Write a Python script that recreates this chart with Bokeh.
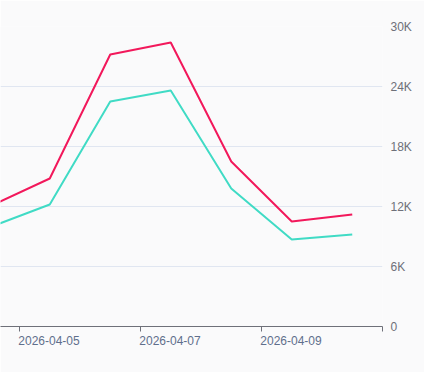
from datetime import datetime, timezone
from bokeh.plotting import figure
from bokeh.models import LinearAxis, FixedTicker, Range1d, CustomJSTickFormatter, Grid
from bokeh.embed import file_html
from bokeh.resources import INLINE

def ms(y, m, d, h=0, mi=0):
    return datetime(y, m, d, h, mi, tzinfo=timezone.utc).timestamp() * 1000

dates = [ms(2026, 4, d, 12) for d in [4, 5, 6, 7, 8, 9, 10]]
series_red = [12000, 14800, 27200, 28400, 16500, 10500, 11200]
series_teal = [9900, 12200, 22500, 23600, 13800, 8700, 9200]
x_ticks = [ms(2026, 4, 5), ms(2026, 4, 7), ms(2026, 4, 9), ms(2026, 4, 11)]
x_labels = ["2026-04-05", "2026-04-07", "2026-04-09"]
y_ticks = [0, 6000, 12000, 18000, 24000, 30000]
y_labels = ["0", "6K", "12K", "18K", "24K", "30K"]

BG = "#fafafb"
PX_PER_DAY = 60.5
DAY = 86400000
x_end = ms(2026, 4, 11)
x_start = x_end - (382 / PX_PER_DAY) * DAY

p = figure(width=424, height=372, output_backend="svg", toolbar_location=None,
           x_axis_type="datetime", x_range=Range1d(x_start, x_end), y_range=Range1d(0, 30000),
           y_axis_location=None, min_border_left=0, min_border_top=26, min_border_bottom=46,
           min_border_right=42, background_fill_color=BG, border_fill_color=BG)
p.outline_line_color = None

p.line(dates, series_red, line_color="#f2185b", line_width=2)
p.line(dates, series_teal, line_color="#40dbc5", line_width=2)

# tick-only axis
xa = p.xaxis[0]
xa.ticker = FixedTicker(ticks=x_ticks)
xa.formatter = CustomJSTickFormatter(code="return '';")
xa.axis_line_color = "#6e7079"
xa.major_tick_line_color = "#6e7079"
xa.major_tick_out = 5
xa.major_tick_in = 0
xa.minor_tick_line_color = None
xa.major_label_text_font_size = "0px"
xa.major_label_standoff = 0

# label axis: labels start at their tick (left aligned)
half_label = (29.5 / PX_PER_DAY) * DAY
label_pos = [round(t + half_label) for t in x_ticks[:len(x_labels)]]
xl = LinearAxis(ticker=FixedTicker(ticks=label_pos),
                major_label_overrides={t: l for t, l in zip(label_pos, x_labels)})
xl.axis_line_color = None
xl.major_tick_line_color = None
xl.minor_tick_line_color = None
xl.major_label_text_color = "#5f6f8c"
xl.major_label_text_font = "Liberation Sans"
xl.major_label_text_font_size = "12px"
xl.major_label_standoff = -2
p.add_layout(xl, "below")

ya = LinearAxis(ticker=FixedTicker(ticks=y_ticks),
                major_label_overrides={t: l for t, l in zip(y_ticks, y_labels)})
ya.axis_line_color = None
ya.major_tick_line_color = None
ya.minor_tick_line_color = None
ya.major_label_text_color = "#6e7079"
ya.major_label_text_font = "Liberation Sans"
ya.major_label_text_font_size = "12px"
ya.major_label_standoff = 2
p.add_layout(ya, "right")

p.xgrid.grid_line_color = None
p.ygrid.grid_line_color = None
g = Grid(dimension=1, ticker=FixedTicker(ticks=y_ticks[1:]), grid_line_color="#e0e6f1", grid_line_width=1)
p.add_layout(g)

open("out.html", "w").write(file_html(p, INLINE))
